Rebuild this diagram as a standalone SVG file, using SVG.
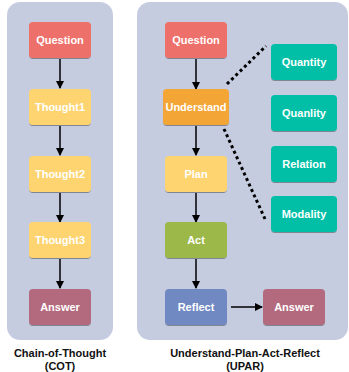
<svg xmlns="http://www.w3.org/2000/svg" width="349" height="372" viewBox="0 0 349 372">
<defs>
<marker id="ah" markerWidth="8" markerHeight="8" refX="7" refY="4" orient="auto" markerUnits="userSpaceOnUse">
<path d="M0,0 L8,4 L0,8 Z" fill="#000"/>
</marker>
<filter id="sh" x="-10%" y="-10%" width="130%" height="140%">
<feDropShadow dx="0" dy="1" stdDeviation="0.6" flood-color="#000" flood-opacity="0.35"/>
</filter>
</defs>
<style>
.panel{fill:#C5CCE0}
.box{filter:url(#sh)}
.t{font-family:"Liberation Sans",Arial,sans-serif;font-weight:bold;font-size:11px;fill:#fff;text-anchor:middle;dominant-baseline:central}
.lab{font-family:"Liberation Sans",Arial,sans-serif;font-weight:bold;font-size:11px;fill:#111;text-anchor:middle}
.arr{stroke:#000;stroke-width:1.5;fill:none;marker-end:url(#ah)}
.dot{stroke:#000;stroke-width:3;stroke-dasharray:3 3;fill:none}
.q{fill:#EE706B}.th{fill:#FDD46F}.an{fill:#B46A7E}.un{fill:#F3A536}.ac{fill:#9BB84A}.re{fill:#7189C3}.g{fill:#00BFA6}
</style>
<rect class="panel" x="7" y="2" width="106" height="338" rx="13"/>
<rect class="panel" x="137" y="2" width="211" height="338" rx="13"/>
<g id="connectors">
<line class="arr" x1="60" y1="59" x2="60" y2="88"/>
<line class="arr" x1="60" y1="126" x2="60" y2="155"/>
<line class="arr" x1="60" y1="193" x2="60" y2="222"/>
<line class="arr" x1="60" y1="259" x2="60" y2="288"/>
<line class="arr" x1="196" y1="59" x2="196" y2="89"/>
<line class="arr" x1="196" y1="126" x2="196" y2="155"/>
<line class="arr" x1="196" y1="193" x2="196" y2="222"/>
<line class="arr" x1="196" y1="259" x2="196" y2="288"/>
<line class="arr" x1="231" y1="307" x2="262" y2="307"/>
<line class="dot" x1="227" y1="84" x2="266" y2="46"/>
<line class="dot" x1="224" y1="129" x2="265" y2="219"/>
</g>
<g id="cot-question"><rect class="box q" x="29" y="22" width="62" height="36" rx="4"/><text class="t" x="60" y="40">Question</text></g>
<g id="cot-thought1"><rect class="box th" x="29" y="89" width="62" height="36" rx="4"/><text class="t" x="60" y="107">Thought1</text></g>
<g id="cot-thought2"><rect class="box th" x="29" y="156" width="62" height="36" rx="4"/><text class="t" x="60" y="174">Thought2</text></g>
<g id="cot-thought3"><rect class="box th" x="29" y="222" width="62" height="36" rx="4"/><text class="t" x="60" y="240">Thought3</text></g>
<g id="cot-answer"><rect class="box an" x="29" y="289" width="62" height="36" rx="4"/><text class="t" x="60" y="307">Answer</text></g>
<g id="upar-question"><rect class="box q" x="165" y="22" width="62" height="36" rx="4"/><text class="t" x="196" y="40">Question</text></g>
<g id="upar-understand"><rect class="box un" x="163" y="89" width="66" height="36" rx="4"/><text class="t" x="196" y="107">Understand</text></g>
<g id="upar-plan"><rect class="box th" x="165" y="156" width="62" height="36" rx="4"/><text class="t" x="196" y="174">Plan</text></g>
<g id="upar-act"><rect class="box ac" x="165" y="222" width="62" height="36" rx="4"/><text class="t" x="196" y="240">Act</text></g>
<g id="upar-reflect"><rect class="box re" x="165" y="289" width="62" height="36" rx="4"/><text class="t" x="196" y="307">Reflect</text></g>
<g id="upar-answer"><rect class="box an" x="263" y="289" width="62" height="36" rx="4"/><text class="t" x="294" y="307">Answer</text></g>
<g id="quantity"><rect class="box g" x="271" y="44" width="66" height="36" rx="4"/><text class="t" x="304" y="62">Quantity</text></g>
<g id="quanlity"><rect class="box g" x="271" y="95" width="66" height="36" rx="4"/><text class="t" x="304" y="113">Quanlity</text></g>
<g id="relation"><rect class="box g" x="271" y="146" width="66" height="36" rx="4"/><text class="t" x="304" y="164">Relation</text></g>
<g id="modality"><rect class="box g" x="271" y="196" width="66" height="36" rx="4"/><text class="t" x="304" y="214">Modality</text></g>
<text class="lab" x="60" y="357">Chain-of-Thought</text>
<text class="lab" x="60" y="370">(COT)</text>
<text class="lab" x="245" y="357">Understand-Plan-Act-Reflect</text>
<text class="lab" x="245" y="370">(UPAR)</text>
</svg>
